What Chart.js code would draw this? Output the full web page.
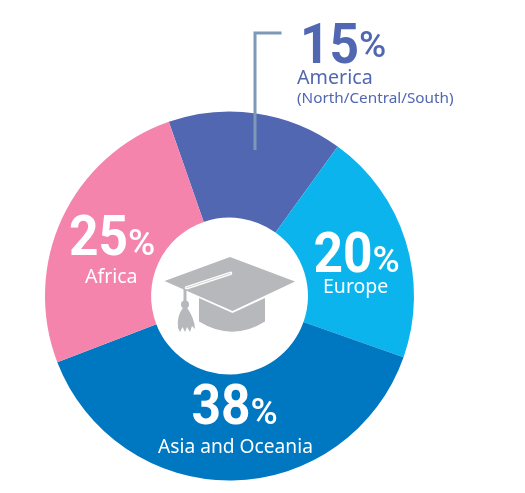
<!DOCTYPE html>
<html>
<head>
<meta charset="utf-8">
<style>
  html, body { margin: 0; padding: 0; background: #fff; }
  canvas { display: block; }
</style>
<script src="https://cdn.jsdelivr.net/npm/chart.js@4"></script>
</head>
<body>
<canvas id="grafico" width="525" height="493"></canvas>
<script>
const regioes = ['America (North/Central/South)', 'Europe', 'Asia and Oceania', 'Africa'];
const percentuais = [15, 20, 38, 25];
const cores = ['#5267b2', '#0bb4ec', '#0077c1', '#f484ab'];

// big number, "%" sign and the region text, placed from the chart centre
const rotulos = [
  { num: '15', x: 70.5, y: -233, subir: 6, linhas: [['America', 67.5, -212, 19.7], ['(North/Central/South)', 67.5, -193, 15.3]], cor: '#5267b2' },
  { num: '20', x: 84, y: -24, subir: 0, linhas: [['Europe', 93.5, -3, 19.5]], cor: '#fff' },
  { num: '38', x: -38, y: 128, subir: 0, linhas: [['Asia and Oceania', -71.5, 156.5, 19.2]], cor: '#fff' },
  { num: '25', x: -160.5, y: -41, subir: 0, linhas: [['Africa', -144.5, -13, 19.5]], cor: '#fff' }
];

const textos = {
  id: 'textos',
  afterDraw(chart) {
    const { ctx } = chart;
    const arco = chart.getDatasetMeta(0).data[0];
    const cx = arco.x, cy = arco.y;

    // leader line
    ctx.save();
    ctx.strokeStyle = '#7c9ab8';
    ctx.lineWidth = 3;
    ctx.beginPath();
    ctx.moveTo(cx + 25.5, cy - 146);
    ctx.lineTo(cx + 25.5, cy - 263);
    ctx.lineTo(cx + 52, cy - 263);
    ctx.stroke();

    // graduation cap
    ctx.translate(cx, cy);
    ctx.fillStyle = '#b7b8bb';
    ctx.beginPath();
    ctx.moveTo(-30.5, 2);
    ctx.lineTo(3, 17);
    ctx.lineTo(35.5, 2);
    ctx.lineTo(35.5, 25.5);
    ctx.quadraticCurveTo(3, 46, -30.5, 25.5);
    ctx.closePath();
    ctx.fill();
    ctx.beginPath();
    ctx.moveTo(0.5, -39);
    ctx.lineTo(65.5, -14.5);
    ctx.lineTo(3, 15);
    ctx.lineTo(-65, -15);
    ctx.closePath();
    ctx.fill();
    // cord
    ctx.lineCap = 'round';
    ctx.strokeStyle = '#fff';
    ctx.lineWidth = 3.5;
    ctx.beginPath();
    ctx.moveTo(1, -22.7);
    ctx.lineTo(-43, -8.2);
    ctx.stroke();
    ctx.strokeStyle = '#d4d5d7';
    ctx.lineWidth = 1;
    ctx.beginPath();
    ctx.moveTo(1, -22.7);
    ctx.lineTo(-43, -8.2);
    ctx.stroke();
    ctx.lineCap = 'butt';
    ctx.strokeStyle = '#b7b8bb';
    ctx.lineWidth = 3;
    ctx.beginPath();
    ctx.moveTo(-44.5, -7);
    ctx.lineTo(-44.5, 6);
    ctx.stroke();
    ctx.beginPath();
    ctx.arc(-44.5, 8.5, 4, 0, Math.PI * 2);
    ctx.fill();
    // tassel
    ctx.beginPath();
    ctx.moveTo(-46, 11);
    ctx.lineTo(-43, 11);
    ctx.quadraticCurveTo(-35, 22, -34.5, 33);
    ctx.lineTo(-37.5, 30);
    ctx.lineTo(-39.5, 36);
    ctx.lineTo(-42.5, 31);
    ctx.lineTo(-44.5, 36);
    ctx.lineTo(-47, 31);
    ctx.lineTo(-49.5, 36);
    ctx.lineTo(-51.5, 32);
    ctx.quadraticCurveTo(-53, 20, -46, 11);
    ctx.closePath();
    ctx.fill();
    ctx.restore();

    ctx.save();
    ctx.textBaseline = 'alphabetic';
    rotulos.forEach(r => {
      ctx.fillStyle = r.cor;
      ctx.font = 'bold 56px Roboto';
      const largura = ctx.measureText(r.num).width * 0.92;
      ctx.save();
      ctx.translate(cx + r.x, cy + r.y);
      ctx.scale(0.92, 1);
      ctx.fillText(r.num, 0, 0);
      ctx.restore();
      ctx.font = '500 37px Roboto';
      ctx.fillText('%', cx + r.x + largura, cy + r.y - r.subir);
      r.linhas.forEach(([txt, x, y, tam]) => {
        ctx.font = tam + 'px "Noto Sans"';
        ctx.fillText(txt, cx + x, cy + y);
      });
    });
    ctx.restore();
  }
};

new Chart(document.getElementById('grafico'), {
  type: 'doughnut',
  data: {
    labels: regioes,
    datasets: [{
      data: percentuais,
      backgroundColor: cores,
      borderWidth: 0
    }]
  },
  options: {
    responsive: false,
    animation: false,
    cutout: '42.5%',
    rotation: -19.2,
    layout: { padding: { left: 45, right: 111, top: 111.5, bottom: 12.5 } },
    plugins: {
      legend: { display: false },
      tooltip: { enabled: false }
    }
  },
  plugins: [textos]
});
</script>
</body>
</html>
